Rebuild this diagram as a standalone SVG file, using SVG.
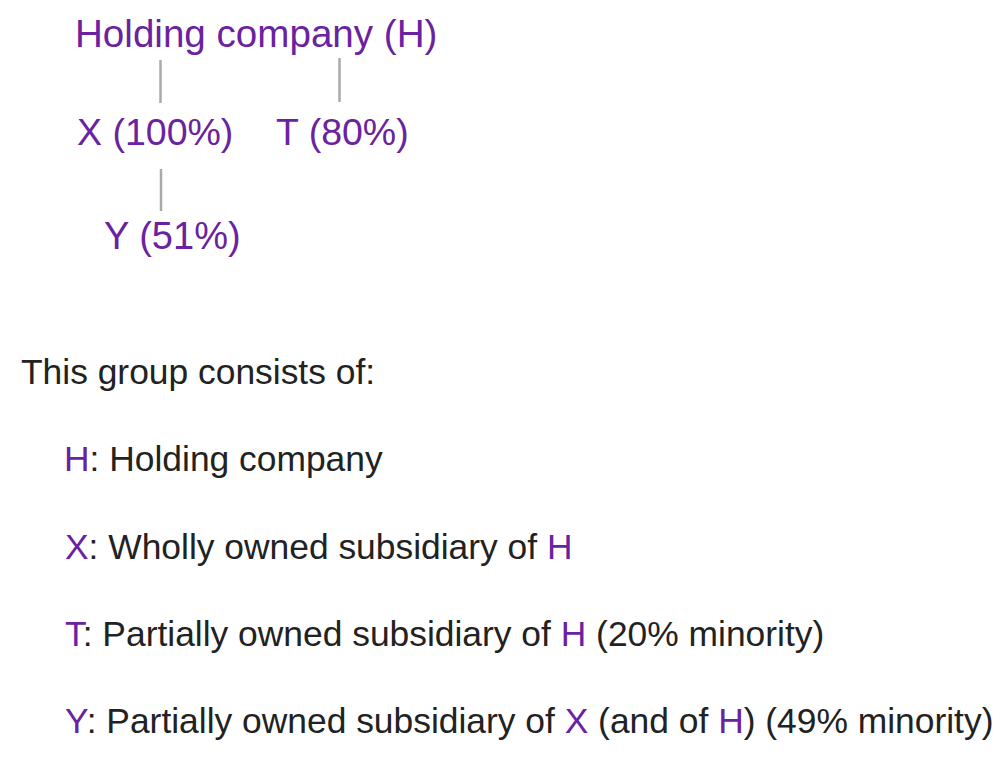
<svg xmlns="http://www.w3.org/2000/svg" width="1006" height="766" viewBox="0 0 1006 766">
<style>
text{font-family:"Liberation Sans",Arial,sans-serif}
.node{font-size:37.5px;fill:#6a22a0}
.leg{font-size:35.4px;fill:#222}
.p{fill:#6a22a0}
.conn line{stroke:#aaaaaa;stroke-width:2.5}
</style>
<rect width="1006" height="766" fill="#fff"/>
<g class="conn" id="connectors">
<line x1="160.5" y1="60" x2="160.5" y2="103"/>
<line x1="339.5" y1="58" x2="339.5" y2="102"/>
<line x1="161" y1="169" x2="161" y2="211"/>
</g>
<g id="node-H"><text class="node" x="75" y="47" style="font-size:38.6px">Holding company (H)</text></g>
<g id="node-X"><text class="node" x="77" y="145">X (100%)</text></g>
<g id="node-T"><text class="node" x="276" y="145">T (80%)</text></g>
<g id="node-Y"><text class="node" x="104" y="249" style="font-size:38px">Y (51%)</text></g>
<g id="legend">
<text class="leg" x="21" y="384">This group consists of:</text>
<text class="leg" x="64" y="471"><tspan class="p">H</tspan>: Holding company</text>
<text class="leg" x="65" y="559"><tspan class="p">X</tspan>: Wholly owned subsidiary of <tspan class="p">H</tspan></text>
<text class="leg" x="65" y="646"><tspan class="p">T</tspan>: Partially owned subsidiary of <tspan class="p">H</tspan> (20% minority)</text>
<text class="leg" x="65" y="733"><tspan class="p">Y</tspan>: Partially owned subsidiary of <tspan class="p">X</tspan> (and of <tspan class="p">H</tspan>) (49% minority)</text>
</g>
</svg>
